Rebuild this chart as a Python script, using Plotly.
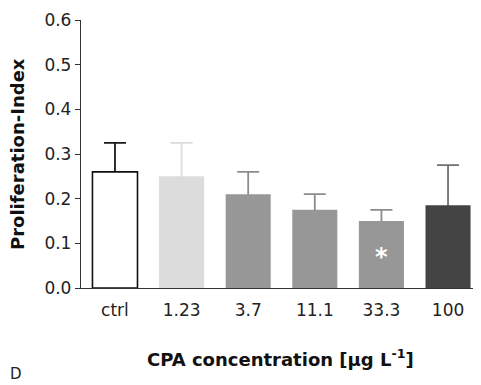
import plotly.graph_objects as go

categories = ["ctrl", "1.23", "3.7", "11.1", "33.3", "100"]
means = [0.26, 0.25, 0.21, 0.175, 0.15, 0.185]
err_upper = [0.065, 0.075, 0.05, 0.035, 0.025, 0.09]
bar_colors = ["#ffffff", "#dcdcdc", "#979797", "#979797", "#979797", "#444444"]
err_colors = ["#1a1a1a", "#dcdcdc", "#8c8c8c", "#8c8c8c", "#8c8c8c", "#707070"]
y_ticks = [0.0, 0.1, 0.2, 0.3, 0.4, 0.5, 0.6]

FONT = "DejaVu Sans"
BAR_W = 0.676
Y_RANGE = [0, 0.6]
PAGE_PAD = 8  # default body margin of the html page

fig = go.Figure()

# error bars on the base subplot; the bars sit on an overlaying axis above them,
# hiding the lower half of each error bar (only the upper whisker shows)
for c, m, e, col in zip(categories, means, err_upper, err_colors):
    fig.add_trace(go.Scatter(
        x=[c], y=[m], mode="markers",
        marker=dict(color="rgba(0,0,0,0)", size=1),
        error_y=dict(type="data", symmetric=False, array=[e], arrayminus=[m],
                     color=col, thickness=1.8, width=11),
        showlegend=False, hoverinfo="skip",
    ))

fig.add_trace(go.Bar(
    x=categories, y=means, width=BAR_W, yaxis="y2",
    marker=dict(color=bar_colors,
                line=dict(color=["#111111"] + ["rgba(0,0,0,0)"] * 5,
                          width=[1.6, 0, 0, 0, 0, 0])),
    showlegend=False,
))

fig.update_layout(
    width=481 - PAGE_PAD, height=385 - PAGE_PAD,
    margin=dict(l=81 - PAGE_PAD, r=1, t=20 - PAGE_PAD, b=97, autoexpand=False),
    plot_bgcolor="white", paper_bgcolor="white",
    font=dict(family=FONT, size=17, color="#222222"),
    xaxis=dict(
        type="category", range=[-0.51, 5.48],
        showline=True, linecolor="#333333", linewidth=1.3,
        ticks="outside", ticklen=6, tickcolor="rgba(0,0,0,0)",
        tickfont=dict(family=FONT, size=17, color="#222222"),
        showgrid=False, zeroline=False, automargin=False,
    ),
    yaxis=dict(
        range=Y_RANGE, tickvals=y_ticks, ticktext=[f"{v:.1f}" for v in y_ticks],
        showline=True, linecolor="#333333", linewidth=1.3,
        ticks="outside", ticklen=5, tickcolor="#333333", tickwidth=1.3,
        tickfont=dict(family=FONT, size=17, color="#222222"),
        showgrid=False, zeroline=False, automargin=False,
    ),
    yaxis2=dict(range=Y_RANGE, overlaying="y", visible=False, showgrid=False,
                zeroline=False),
    annotations=[
        dict(text="<b>Proliferation-Index</b>", textangle=-90,
             xref="paper", yref="paper", x=(17 - 81) / 399, y=0.5,
             xanchor="center", yanchor="middle", showarrow=False,
             font=dict(family=FONT, size=18, color="#111111")),
        dict(text="<b>CPA concentration [μg L<sup>-1</sup>]</b>",
             xref="paper", yref="paper", x=0.5, y=-(358 - 288) / 268,
             xanchor="center", yanchor="middle", showarrow=False,
             font=dict(family=FONT, size=18, color="#111111")),
        dict(text="D", xref="paper", yref="paper",
             x=(PAGE_PAD - 81) / 399, y=-(374 - 288) / 268,
             xanchor="left", yanchor="middle", showarrow=False,
             font=dict(family=FONT, size=15, color="#222222")),
        dict(text="<b>*</b>", xref="x", yref="y", x=4, y=0.07,
             xanchor="center", yanchor="middle", showarrow=False,
             font=dict(family=FONT, size=24, color="white")),
    ],
)

fig.write_html("out.html")
